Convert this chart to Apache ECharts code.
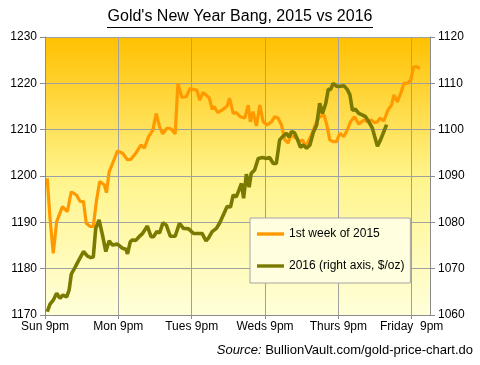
<!DOCTYPE html>
<html>
<head>
<meta charset="utf-8">
<script src="https://cdn.jsdelivr.net/npm/echarts@6/dist/echarts.min.js"></script>
<style>
html,body{margin:0;padding:0;background:#fff;}
#c{width:480px;height:365px;}
</style>
</head>
<body>
<div id="c"></div>
<script>
// Hours since Sunday 9pm
var xTickLabels = ["Sun 9pm", "Mon 9pm", "Tues 9pm", "Weds 9pm", "Thurs 9pm", "Friday  9pm"];
var seriesNames = ["1st week of 2015", "2016 (right axis, $/oz)"];

// 1st week of 2015 (left axis, $/oz) : [hour, price]
var gold2015 = [
[0.75,1199.5],[1.6,1191.2],[2.7,1183.3],[3.8,1190.1],[5.7,1193.4],[7.3,1192.3],[8.6,1196.6],[10.3,1195.9],
[11.5,1194.5],[12.6,1194.5],[13.5,1189.8],[14.8,1189.1],[15.8,1189.1],[16.8,1194.5],[17.9,1198.8],[19.4,1198.1],
[20.1,1196.4],[21.0,1200.9],[22.1,1202.7],[23.7,1205.4],[25.4,1204.9],[27.0,1203.5],[28.1,1203.6],[29.7,1204.9],
[31.4,1206.7],[32.5,1206.0],[33.9,1208.5],[35.3,1209.9],[36.4,1213.5],[37.5,1210.6],[38.5,1209.1],[39.9,1210.3],
[41.2,1210.2],[42.6,1209.1],[43.5,1220.0],[44.8,1217.0],[46.2,1217.1],[47.5,1218.9],[48.9,1218.6],[49.7,1218.6],
[50.6,1216.4],[51.7,1218.0],[53.0,1217.3],[53.8,1216.8],[54.7,1214.4],[55.4,1215.0],[56.5,1213.7],[57.9,1214.2],
[59.6,1215.1],[60.4,1216.8],[61.6,1213.5],[62.6,1213.7],[63.9,1212.8],[65.4,1212.5],[66.5,1215.3],[67.2,1211.7],
[68.1,1213.9],[69.2,1210.8],[70.3,1215.3],[71.4,1211.7],[72.7,1211.0],[74.1,1211.7],[75.2,1212.8],[76.3,1212.5],
[77.4,1211.0],[78.5,1207.8],[79.6,1207.1],[80.3,1208.6],[81.2,1208.6],[82.3,1208.1],[83.4,1207.4],[84.3,1207.8],
[85.0,1206.7],[85.8,1207.0],[86.9,1208.4],[87.8,1209.9],[88.9,1211.7],[89.9,1212.8],[91.3,1213.2],[92.1,1211.4],
[93.2,1207.8],[94.3,1207.4],[95.4,1207.4],[96.5,1209.2],[97.8,1208.5],[98.9,1209.9],[100.0,1211.7],[101.3,1212.8],
[102.7,1211.2],[104.4,1212.1],[105.5,1211.7],[106.8,1212.1],[107.9,1211.5],[108.8,1211.7],[109.6,1212.5],[110.9,1211.9],
[112.2,1214.2],[113.4,1215.3],[114.2,1217.5],[115.3,1216.0],[116.4,1217.8],[117.5,1220.0],[118.8,1220.1],[119.7,1220.7],
[120.6,1223.5],[121.6,1223.6],[122.7,1223.2]
];

// 2016 (right axis, $/oz) : [hour, price]
var gold2016 = [
[0.75,1060.7],[1.6,1062.3],[2.7,1063.2],[3.8,1064.7],[4.9,1063.6],[5.9,1064.3],[7.1,1063.9],[7.9,1065.4],
[8.6,1068.8],[9.7,1070.1],[11.2,1072.0],[12.6,1073.7],[13.9,1072.7],[15.0,1072.4],[15.8,1072.5],[16.6,1078.7],
[17.7,1080.5],[18.8,1077.3],[19.9,1073.7],[21.0,1076.0],[22.1,1075.1],[23.7,1075.3],[25.4,1074.4],[26.5,1074.2],
[27.0,1073.2],[27.9,1075.8],[28.6,1076.2],[29.7,1076.1],[30.8,1076.9],[31.8,1077.5],[32.5,1078.2],[33.5,1079.2],
[34.7,1076.9],[35.5,1076.9],[36.6,1078.0],[37.5,1077.7],[38.6,1079.9],[39.7,1079.4],[41.0,1077.0],[42.6,1077.0],
[44.0,1079.8],[45.3,1078.7],[47.0,1078.6],[48.6,1077.6],[50.3,1077.6],[51.4,1077.6],[52.7,1076.0],[53.5,1076.6],
[54.7,1078.0],[56.1,1078.7],[57.2,1079.9],[58.5,1081.8],[59.6,1083.4],[60.7,1083.3],[61.6,1085.9],[62.6,1085.5],
[63.5,1087.0],[64.3,1088.4],[65.0,1085.2],[65.9,1090.4],[66.8,1087.6],[67.5,1090.6],[68.6,1091.3],[69.8,1093.8],
[71.2,1094.0],[72.5,1093.8],[73.5,1094.0],[74.7,1092.7],[75.7,1092.7],[76.8,1097.8],[77.9,1098.6],[79.0,1099.2],
[79.9,1098.4],[80.7,1099.6],[81.7,1099.3],[82.5,1098.1],[83.6,1096.2],[84.5,1096.7],[85.6,1096.0],[86.7,1096.7],
[87.8,1099.4],[88.9,1101.0],[89.9,1105.7],[90.8,1103.5],[91.9,1105.7],[92.7,1108.7],[93.5,1108.7],[94.3,1110.0],
[95.4,1109.4],[96.2,1109.3],[97.8,1109.5],[98.9,1108.7],[99.8,1107.5],[100.6,1104.2],[101.6,1104.4],[102.7,1103.5],
[103.8,1103.2],[104.9,1102.8],[106.0,1101.7],[107.1,1100.4],[107.9,1098.5],[108.8,1096.4],[109.8,1097.8],[110.9,1099.6],
[111.8,1101.1]
];

var FONT = "'Liberation Sans', Arial, sans-serif";
var plainNum = function (v) { return String(v); };
var chart = echarts.init(document.getElementById('c'), null, {renderer: 'canvas'});
chart.setOption({
  animation: false,
  backgroundColor: '#ffffff',
  title: [{
    text: "Gold's New Year Bang, 2015 vs 2016",
    left: 'center',
    top: 9,
    padding: 0,
    textStyle: {fontFamily: FONT, fontSize: 16, fontWeight: 'normal', color: '#000'}
  }, {
    text: '{i|Source:} {n|BullionVault.com/gold-price-chart.do}',
    right: 7,
    top: 344,
    padding: 0,
    textStyle: {
      fontFamily: FONT, fontSize: 13, fontWeight: 'normal', color: '#000',
      rich: {
        i: {fontFamily: FONT, fontSize: 13, fontStyle: 'italic', color: '#000'},
        n: {fontFamily: FONT, fontSize: 13, color: '#000'}
      }
    }
  }],
  graphic: [{
    type: 'line',
    shape: {x1: 107, y1: 27.5, x2: 373, y2: 27.5},
    style: {stroke: '#000', lineWidth: 1}
  }],
  legend: {
    orient: 'vertical',
    left: 250,
    top: 218,
    padding: [10, 6, 11, 7],
    itemGap: 20,
    itemWidth: 27,
    itemHeight: 14,
    icon: 'path://M0,0H27V3.4H0Z',
    backgroundColor: '#FFFFE0',
    borderColor: '#A6A6A6',
    borderWidth: 1,
    borderRadius: 0,
    textStyle: {fontFamily: FONT, fontSize: 12, color: '#000'},
    data: seriesNames
  },
  grid: {
    left: 45, right: 50, top: 37, bottom: 50,
    show: true,
    borderWidth: 0,
    backgroundColor: new echarts.graphic.LinearGradient(0, 0, 0, 1, [
      {offset: 0, color: '#FFC000'},
      {offset: 0.5, color: '#FFF48A'},
      {offset: 1, color: '#FFFFD9'}
    ])
  },
  xAxis: {
    type: 'value',
    min: 0, max: 126, interval: 24,
    axisLine: {show: true, lineStyle: {color: '#8C8C8C', width: 1}},
    axisTick: {show: true, length: 4, lineStyle: {color: '#8C8C8C'}},
    splitLine: {show: true, lineStyle: {color: '#A0A0A0', width: 1}},
    axisLabel: {
      fontFamily: FONT, fontSize: 12, color: '#000', margin: 6,
      showMaxLabel: false,
      formatter: function (v) {
        var i = Math.round(v / 24);
        return (Math.abs(v - i * 24) < 0.01 && xTickLabels[i]) ? xTickLabels[i] : '';
      }
    }
  },
  yAxis: [{
    type: 'value',
    position: 'left',
    min: 1170, max: 1230, interval: 10,
    axisLine: {show: true, lineStyle: {color: '#8C8C8C', width: 1}},
    axisTick: {show: true, length: 5, lineStyle: {color: '#8C8C8C'}},
    splitLine: {show: true, lineStyle: {color: '#A0A0A0', width: 1}},
    axisLabel: {fontFamily: FONT, fontSize: 12, color: '#000', margin: 8, formatter: plainNum}
  }, {
    type: 'value',
    position: 'right',
    min: 1060, max: 1120, interval: 10,
    axisLine: {show: true, lineStyle: {color: '#8C8C8C', width: 1}},
    axisTick: {show: true, length: 5, lineStyle: {color: '#8C8C8C'}},
    splitLine: {show: false},
    axisLabel: {fontFamily: FONT, fontSize: 12, color: '#000', margin: 8, formatter: plainNum}
  }],
  series: [{
    name: seriesNames[0],
    type: 'line',
    yAxisIndex: 0,
    data: gold2015,
    symbol: 'none',
    showSymbol: false,
    lineStyle: {color: '#FF9900', width: 3.2},
    itemStyle: {color: '#FF9900'},
    z: 2
  }, {
    name: seriesNames[1],
    type: 'line',
    yAxisIndex: 1,
    data: gold2016,
    symbol: 'none',
    showSymbol: false,
    lineStyle: {color: '#7A7A00', width: 3.6},
    itemStyle: {color: '#7A7A00'},
    z: 3
  }]
});
</script>
</body>
</html>
